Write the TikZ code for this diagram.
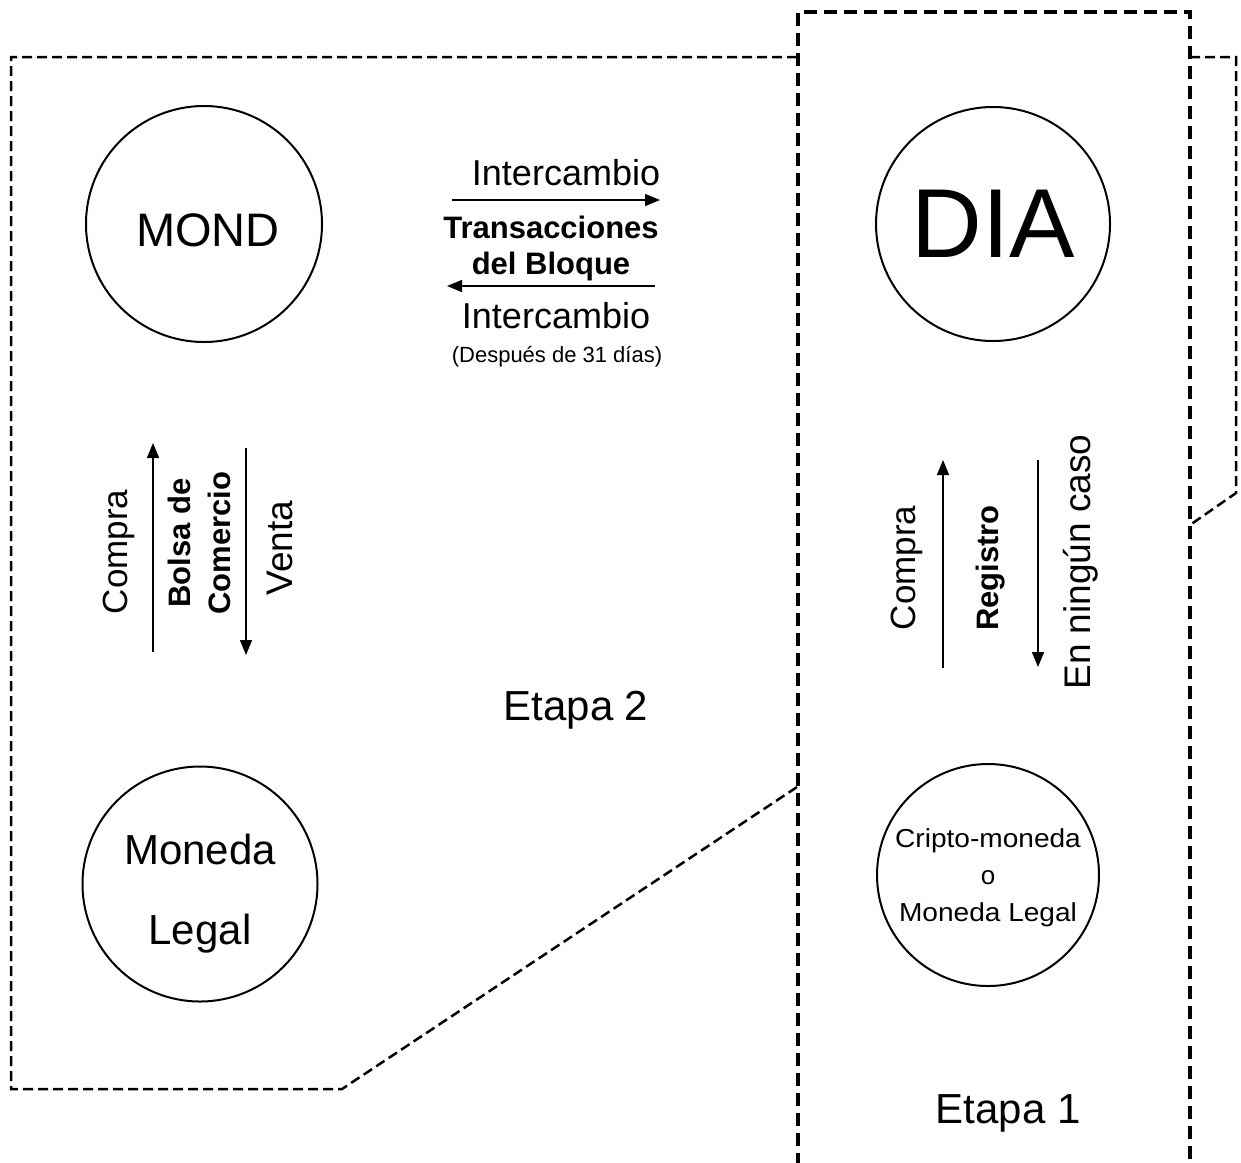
\documentclass[tikz,border=0pt]{standalone}
\usepackage{fontspec}
\setmainfont{Liberation Sans}
\usetikzlibrary{arrows.meta}
\begin{document}
\begin{tikzpicture}[x=1pt,y=-1pt,
  thinframe/.style={line width=2.5pt, dash pattern=on 10pt off 5pt},
  thickframe/.style={line width=4pt, dash pattern=on 13pt off 7pt},
  circ/.style={circle, draw, line width=2pt, inner sep=0pt, align=center},
  flow/.style={line width=1.5pt, -{Triangle[length=15pt,width=12pt]}},
  lbl/.style={inner sep=0pt, anchor=base},
  vlbl/.style={inner sep=0pt, anchor=base, rotate=90},
]
\useasboundingbox (0,0) rectangle (1241,1162);
% frames
\coordinate (L1) at (797,57);
\coordinate (L2) at (11,57);
\coordinate (L3) at (11,1089);
\coordinate (L4) at (342,1089);
\coordinate (L5) at (797,787);
\draw[thinframe] (L1) -- (L2) -- (L3) -- (L4) -- (L5);
\coordinate (R1) at (1190,57);
\coordinate (R2) at (1236,57);
\coordinate (R3) at (1236,493);
\coordinate (R4) at (1190,525);
\draw[thinframe] (R1) -- (R2) -- (R3) -- (R4);
\coordinate (T1) at (798,1166);
\coordinate (T2) at (798,12);
\coordinate (T3) at (1190,12);
\coordinate (T4) at (1190,1166);
\draw[thickframe] (T1) -- (T2) -- (T3) -- (T4);
% circles
\node[circ, minimum size=236pt, font=\fontsize{47}{56}\selectfont] (mond) at (204,224) {\hspace*{8pt}\rule{0pt}{46pt}MOND};
\node[circ, minimum size=234pt, font=\fontsize{98}{110}\selectfont] (dia) at (993,224) {DIA};
\node[circ, minimum size=235pt, font=\fontsize{42}{80}\selectfont] (legal) at (200,884) {\rule{0pt}{49pt}Moneda\\Legal};
\node[circ, minimum size=222pt, font=\fontsize{26}{37}\selectfont] (cripto) at (988,875) {\rule{0pt}{24pt}\scalebox{1.08}[1]{Cripto-moneda}\\o\\\scalebox{1.08}[1]{Moneda Legal}};
% top exchange
\node[lbl, font=\fontsize{36}{43}\selectfont] (int1) at (566,185) {Intercambio};
\node[lbl, font=\bfseries\fontsize{31}{37}\selectfont] (trans) at (551,238) {Transacciones};
\node[lbl, font=\bfseries\fontsize{31}{37}\selectfont] (bloque) at (551,274) {del Bloque};
\node[lbl, font=\fontsize{36}{43}\selectfont] (int2) at (556,328) {Intercambio};
\node[lbl, font=\fontsize{22}{26}\selectfont] (despues) at (557,362) {(Después de 31 días)};
\coordinate (a1s) at (452,200);
\coordinate (a1e) at (660,200);
\draw[flow] (a1s) -- (a1e);
\coordinate (a2s) at (655,286);
\coordinate (a2e) at (447,286);
\draw[flow] (a2s) -- (a2e);
% left vertical
\node[vlbl, font=\fontsize{35}{42}\selectfont] (compraL) at (127,552) {Compra};
\node[vlbl, font=\bfseries\fontsize{31}{37}\selectfont] (bolsa) at (190,543) {Bolsa de};
\node[vlbl, font=\bfseries\fontsize{31}{37}\selectfont] (comercio) at (230,543) {Comercio};
\node[vlbl, font=\fontsize{37}{44}\selectfont] (venta) at (292,548) {Venta};
\coordinate (b1s) at (153,652);
\coordinate (b1e) at (153,443);
\draw[flow] (b1s) -- (b1e);
\coordinate (b2s) at (246,448);
\coordinate (b2e) at (246,655);
\draw[flow] (b2s) -- (b2e);
% right vertical
\node[vlbl, font=\fontsize{35}{42}\selectfont] (compraR) at (915,568) {Compra};
\node[vlbl, font=\bfseries\fontsize{31}{37}\selectfont] (registro) at (998,568) {Registro};
\node[vlbl, font=\fontsize{37}{44}\selectfont] (ninguno) at (1090,562) {En ningún caso};
\coordinate (c1s) at (943,668);
\coordinate (c1e) at (943,460);
\draw[flow] (c1s) -- (c1e);
\coordinate (c2s) at (1038,460);
\coordinate (c2e) at (1038,667);
\draw[flow] (c2s) -- (c2e);
% stage labels
\node[lbl, font=\fontsize{42}{50}\selectfont] (etapa2) at (576,720) {Etapa 2};
\node[lbl, font=\fontsize{42}{50}\selectfont] (etapa1) at (1008,1123) {Etapa 1};
\end{tikzpicture}
\end{document}
